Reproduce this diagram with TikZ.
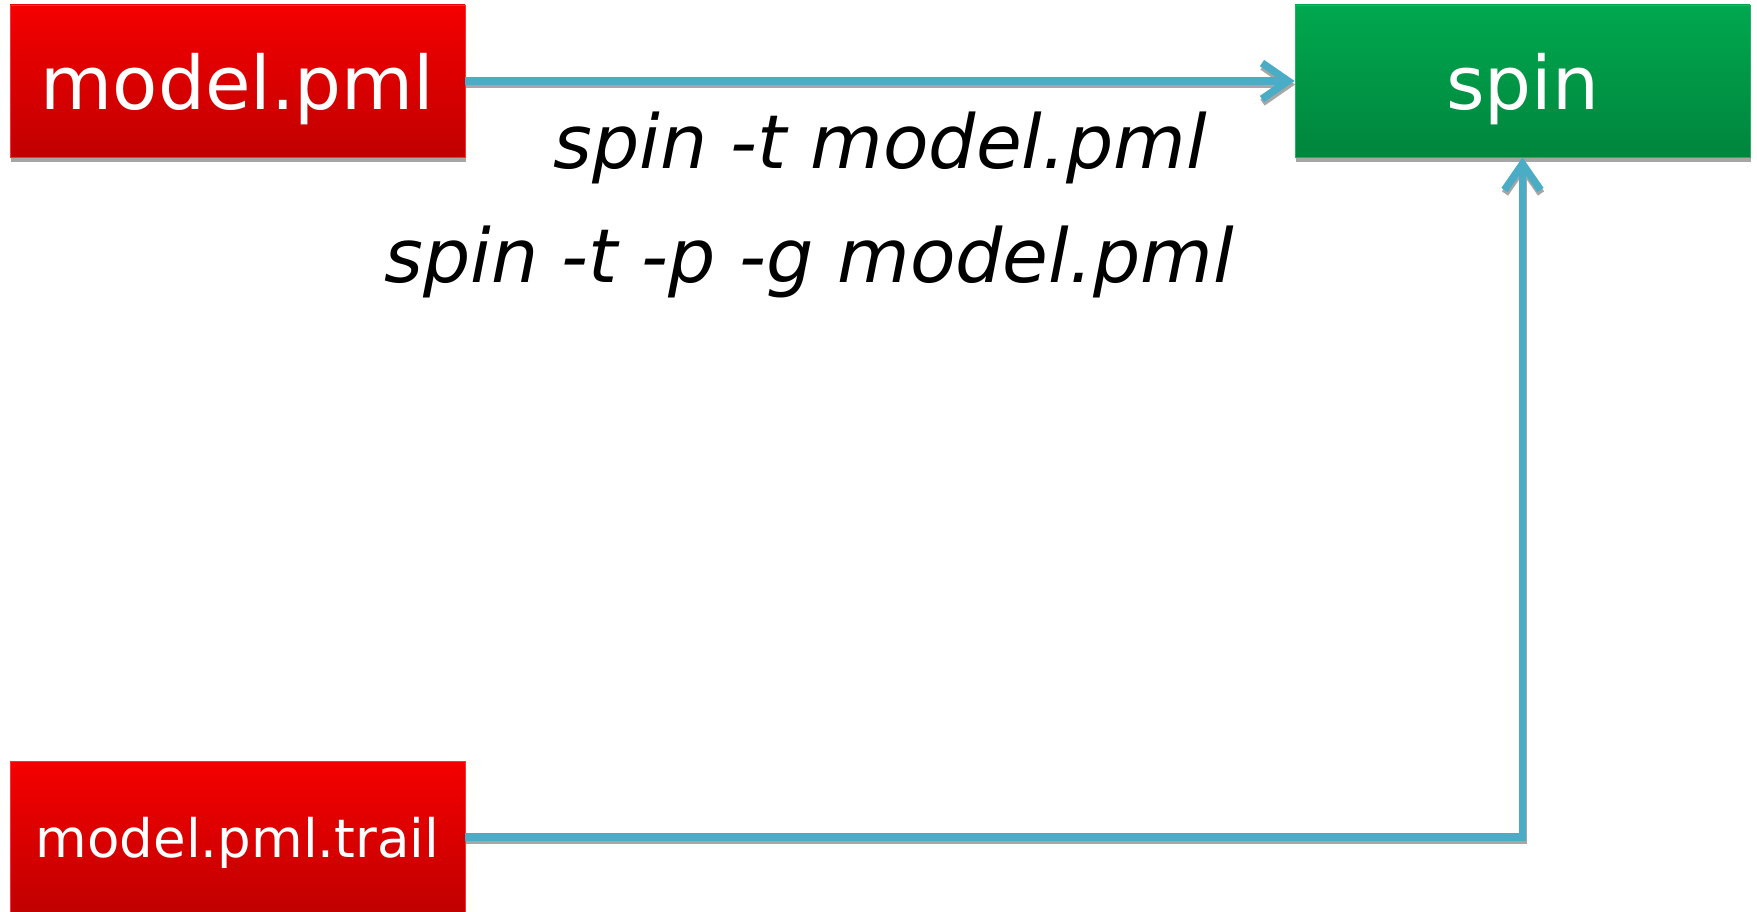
\documentclass[tikz,border=0pt]{standalone}
\usepackage{fontspec}
\setmainfont{DejaVu Sans}
\usetikzlibrary{arrows.meta,shadows}
\definecolor{redtop}{HTML}{F50000}
\definecolor{redbot}{HTML}{C00000}
\definecolor{redline}{HTML}{FF3030}
\definecolor{greentop}{HTML}{00A84F}
\definecolor{greenbot}{HTML}{00853D}
\definecolor{greenline}{HTML}{20B060}
\definecolor{linkblue}{HTML}{4BACC6}
\definecolor{shadowgray}{HTML}{A6A6A6}
\tikzset{
  filebox/.style={rectangle, minimum width=455pt, minimum height=152pt, inner sep=0pt,
    top color=redtop, bottom color=redbot, draw=redline, line width=0.8pt,
    text=white, font=\fontsize{74}{80}\selectfont, text depth=0pt, text height=0pt,
    drop shadow={shadow xshift=1pt, shadow yshift=-5pt, fill=shadowgray, opacity=1}},
  toolbox/.style={filebox, top color=greentop, bottom color=greenbot, draw=greenline},
  connbase/.style={line width=7.5pt, -{Straight Barb[length=26pt, width=36pt]}},
  conn/.style={connbase, draw=linkblue},
  connshadow/.style={connbase, draw=shadowgray},
  cmd/.style={font=\itshape\fontsize{74.5}{80}\selectfont, anchor=base west, inner sep=0pt}
}
\begin{document}
\begin{tikzpicture}[x=1pt,y=-1pt]
\useasboundingbox (0,0) rectangle (1757,912);
\node[filebox] (mp) at (237.5,81) {\raisebox{-29pt}{model.pml}};
\node[toolbox] (spin) at (1522.5,81) {\raisebox{-29pt}{spin}};
\node[filebox, font=\fontsize{53}{60}\selectfont] (trail) at (237.5,837) {\raisebox{-20pt}{model.pml.trail}};
\node[cmd] (c1) at (553,169) {spin -t model.pml};
\node[cmd] (c2) at (384,283) {spin -t -p -g model.pml};
\begin{scope}[transform canvas={xshift=0.5pt,yshift=-3.5pt}]
  \draw[connshadow] (mp.east) -- (spin.west);
  \draw[connshadow] (trail.east) -| (spin.south);
\end{scope}
\draw[conn] (mp.east) -- (spin.west);
\draw[conn] (trail.east) -| (spin.south);
\end{tikzpicture}
\end{document}
